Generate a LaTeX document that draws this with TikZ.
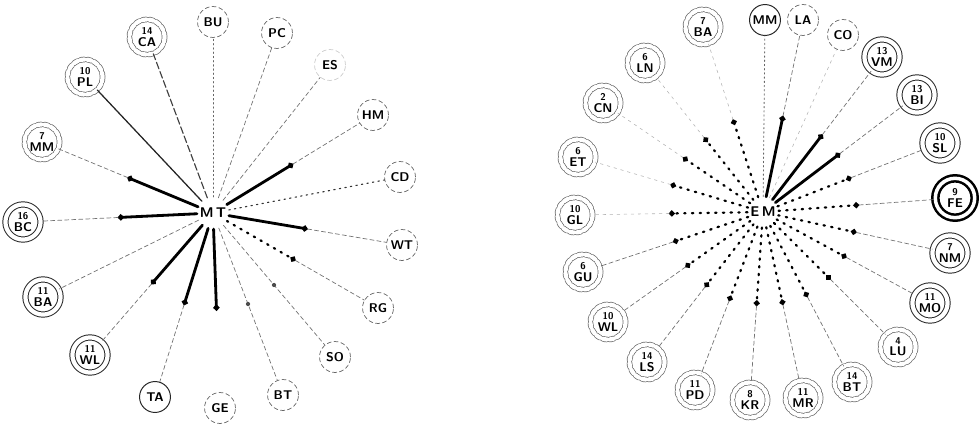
\documentclass[tikz,border=0pt]{standalone}
\usetikzlibrary{calc,arrows.meta}

\begin{document}
\begin{tikzpicture}[x=0.025cm, y=-0.025cm, font=\sffamily\bfseries, line join=round, line cap=round,
		ring/.style={circle, draw=black!60, densely dashed, line width=0.5pt, minimum size=22pt, inner sep=0pt, font=\sffamily\bfseries\small},
		ringsolid/.style={ring, solid, draw=black!85, line width=0.7pt},
		ringfaint/.style={ring, draw=black!20},
		twin/.style={circle, draw=black!60, densely dashed, line width=0.5pt, double, double distance=3pt, minimum size=25pt, inner sep=0pt, align=center, font=\sffamily\bfseries\small},
		twinsolid/.style={twin, solid, draw=black!85, line width=0.7pt},
		twinbold/.style={twin, solid, draw=black, line width=1.8pt, double distance=2.5pt, minimum size=28pt},
		hub/.style={circle, inner sep=1pt, font=\sffamily\bfseries},
		heavy/.style={line width=2pt, -{Circle[length=4pt]}},
		heavydots/.style={line width=1.6pt, dash pattern=on 1pt off 4.5pt, -{Circle[length=4pt]}},
		light/.style={black!55, line width=0.5pt, dash pattern=on 3pt off 2pt},
		faint/.style={black!30, line width=0.4pt, dash pattern=on 2pt off 3pt}]
	\useasboundingbox (0,0) rectangle (980,428);

	% left star
	\node[hub] (MT) at (213,213) {M\,T};
	\foreach \nm/\px/\py/\rs in {BU/213/22/ring, PC/277/33/ring, ES/330/65/ringfaint, HM/373/115/ring,
		CD/400/177/ring, WT/402/245/ring, RG/378/308/ring, SO/335/357/ring, BT/283/395/ring,
		GE/220/408/ring, TA/155/397/ringsolid} {
		\node[\rs] (mt\nm) at (\px,\py) {\nm};
	}
	\foreach \nm/\px/\py/\cnt/\rs in {MM/42/142/7/twin, PL/85/77/10/twin, CA/147/37/14/twin,
		BC/23/222/16/twinsolid, BA/43/297/11/twinsolid, WL/90/355/11/twinsolid} {
		\node[\rs] (mt\nm) at (\px,\py) {{\scriptsize\cnt}\\[-3pt]\nm};
	}
	\foreach \nm in {MM,BC,HM,WT,TA,WL,GE,RG,SO,BT} {
		\coordinate (mtk\nm) at ($(MT)!0.5!(mt\nm)$);
	}
	\foreach \nm in {MM,BC,HM,WT,TA,WL} {
		\draw[heavy] (MT) -- (mtk\nm);
		\draw[light] (mtk\nm) -- (mt\nm);
	}
	\draw[heavy] (MT) -- (mtkGE);
	\draw[heavydots] (MT) -- (mtkRG);
	\draw[light] (mtkRG) -- (mtRG);
	\foreach \nm in {SO,BT} {
		\draw[light] (MT) -- (mt\nm);
		\fill[black!70] (mtk\nm) circle (1.5pt);
	}
	\foreach \nm in {PC,ES,BA} {
		\draw[light] (MT) -- (mt\nm);
	}
	\draw[black!80, line width=0.8pt, dash pattern=on 1pt off 3pt] (MT) -- (mtCD);
	\draw[black!60, line width=0.6pt, dash pattern=on 1pt off 2pt] (MT) -- (mtBU);
	\draw[black!85, line width=0.9pt] (MT) -- (mtPL);
	\draw[black!75, line width=0.8pt, dash pattern=on 5pt off 2pt] (MT) -- (mtCA);

	% right star
	\node[hub] (EM) at (763,212) {E\,M};
	\foreach \nm/\px/\py/\rs in {MM/765/20/ringsolid, LA/803/20/ring, CO/843/35/ring} {
		\node[\rs] (em\nm) at (\px,\py) {\nm};
	}
	\foreach \nm/\px/\py/\cnt/\rs in {BA/703/27/7/twin, VM/882/57/13/twinsolid, BI/917/95/13/twinsolid,
		SL/940/143/10/twinsolid, FE/955/198/9/twinbold, NM/950/253/7/twinsolid, MO/930/303/11/twinsolid,
		LU/898/347/4/twin, BT/852/382/14/twin, MR/803/398/11/twin, KR/750/400/8/twin,
		PD/695/390/11/twin, LS/647/362/14/twin, WL/608/322/10/twin, GU/583/272/6/twin,
		GL/575/215/10/twin, ET/578/157/6/twin, CN/603/103/2/twin, LN/645/63/6/twin} {
		\node[\rs] (em\nm) at (\px,\py) {{\scriptsize\cnt}\\[-3pt]\nm};
	}
	\foreach \nm in {BA,LA,VM,BI,SL,FE,NM,MO,LU,BT,MR,KR,PD,LS,WL,GU,GL,ET,CN,LN} {
		\coordinate (emk\nm) at ($(EM)!0.5!(em\nm)$);
	}
	\foreach \nm in {LA,VM,BI} {
		\draw[heavy] (EM) -- (emk\nm);
		\draw[light] (emk\nm) -- (em\nm);
	}
	\foreach \nm in {SL,FE,NM,MO,LU,BT,MR,KR,PD,LS,WL,GU} {
		\draw[heavydots] (EM) -- (emk\nm);
		\draw[light] (emk\nm) -- (em\nm);
	}
	\foreach \nm in {BA,GL,ET,CN,LN} {
		\draw[heavydots] (EM) -- (emk\nm);
		\draw[faint] (emk\nm) -- (em\nm);
	}
	\draw[black!60, line width=0.6pt, dash pattern=on 1pt off 2pt] (EM) -- (emMM);
	\draw[faint] (EM) -- (emCO);
\end{tikzpicture}
\end{document}
